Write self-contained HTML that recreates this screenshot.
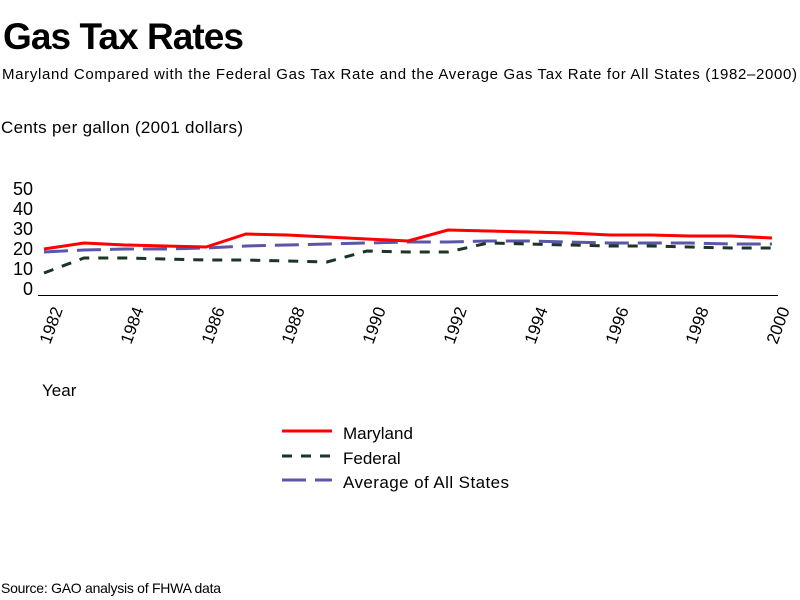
<!DOCTYPE html>
<html><head><style>
html,body{margin:0;padding:0;background:#fff;}
svg{display:block;font-family:"Liberation Sans",Arial,sans-serif;}
</style></head><body>
<svg width="800" height="600" viewBox="0 0 800 600" xmlns="http://www.w3.org/2000/svg">
<rect width="800" height="600" fill="#fff"/>
<text x="3" y="49" font-size="37" font-weight="bold" textLength="241" lengthAdjust="spacing">Gas Tax Rates</text>
<text x="2" y="79" font-size="15" textLength="795" lengthAdjust="spacing">Maryland Compared with the Federal Gas Tax Rate and the Average Gas Tax Rate for All States (1982–2000)</text>
<text x="1" y="133" font-size="17" textLength="242" lengthAdjust="spacing">Cents per gallon (2001 dollars)</text>
<g font-size="18" text-anchor="end">
<text x="33" y="195">50</text>
<text x="33" y="215">40</text>
<text x="33" y="235">30</text>
<text x="33" y="255">20</text>
<text x="33" y="275">10</text>
<text x="33" y="295">0</text>
</g>
<line x1="38" y1="295.5" x2="778" y2="295.5" stroke="#000" stroke-width="1"/>
<g font-size="17">
<text transform="translate(50,345) rotate(-70)">1982</text>
<text transform="translate(131,345) rotate(-70)">1984</text>
<text transform="translate(212,345) rotate(-70)">1986</text>
<text transform="translate(292,345) rotate(-70)">1988</text>
<text transform="translate(373,345) rotate(-70)">1990</text>
<text transform="translate(454,345) rotate(-70)">1992</text>
<text transform="translate(535,345) rotate(-70)">1994</text>
<text transform="translate(616,345) rotate(-70)">1996</text>
<text transform="translate(696,345) rotate(-70)">1998</text>
<text transform="translate(777,345) rotate(-70)">2000</text>
</g>
<text x="42" y="396" font-size="17">Year</text>
<polyline fill="none" stroke="#5b57a6" stroke-width="3" stroke-dasharray="24,9" points="44,252 84,250 125,249 165,249 206,248 246,246 287,245 327,244 367,243 408,242 448,242 488,241 529,241 569,242 610,243 650,243 690,243 731,244 772,244"/>
<polyline fill="none" stroke="#1b3526" stroke-width="3" stroke-dasharray="10,9" points="44,273 84,258 125,258 165,259 206,260 246,260 287,261 327,262 367,251 408,252 448,252 488,243 529,244 569,245 610,246 650,246 690,247 731,248 772,248"/>
<polyline fill="none" stroke="#ff0000" stroke-width="3" points="44,249 84,243 125,245 165,246 206,247 246,234 287,235 327,237 367,239 408,241 448,230 488,231 529,232 569,233 610,235 650,235 690,236 731,236 772,238"/>
<line x1="282" y1="431" x2="332" y2="431" stroke="#ff0000" stroke-width="3"/>
<line x1="282" y1="456" x2="332" y2="456" stroke="#1b3526" stroke-width="3" stroke-dasharray="10,9"/>
<line x1="282" y1="480" x2="332" y2="480" stroke="#5b57a6" stroke-width="3" stroke-dasharray="24,9"/>
<g font-size="17">
<text x="343" y="439">Maryland</text>
<text x="343" y="464">Federal</text>
<text x="343" y="488" textLength="166" lengthAdjust="spacing">Average of All States</text>
</g>
<text x="1" y="593" font-size="14" textLength="220" lengthAdjust="spacing">Source: GAO analysis of FHWA data</text>
</svg>
</body></html>
